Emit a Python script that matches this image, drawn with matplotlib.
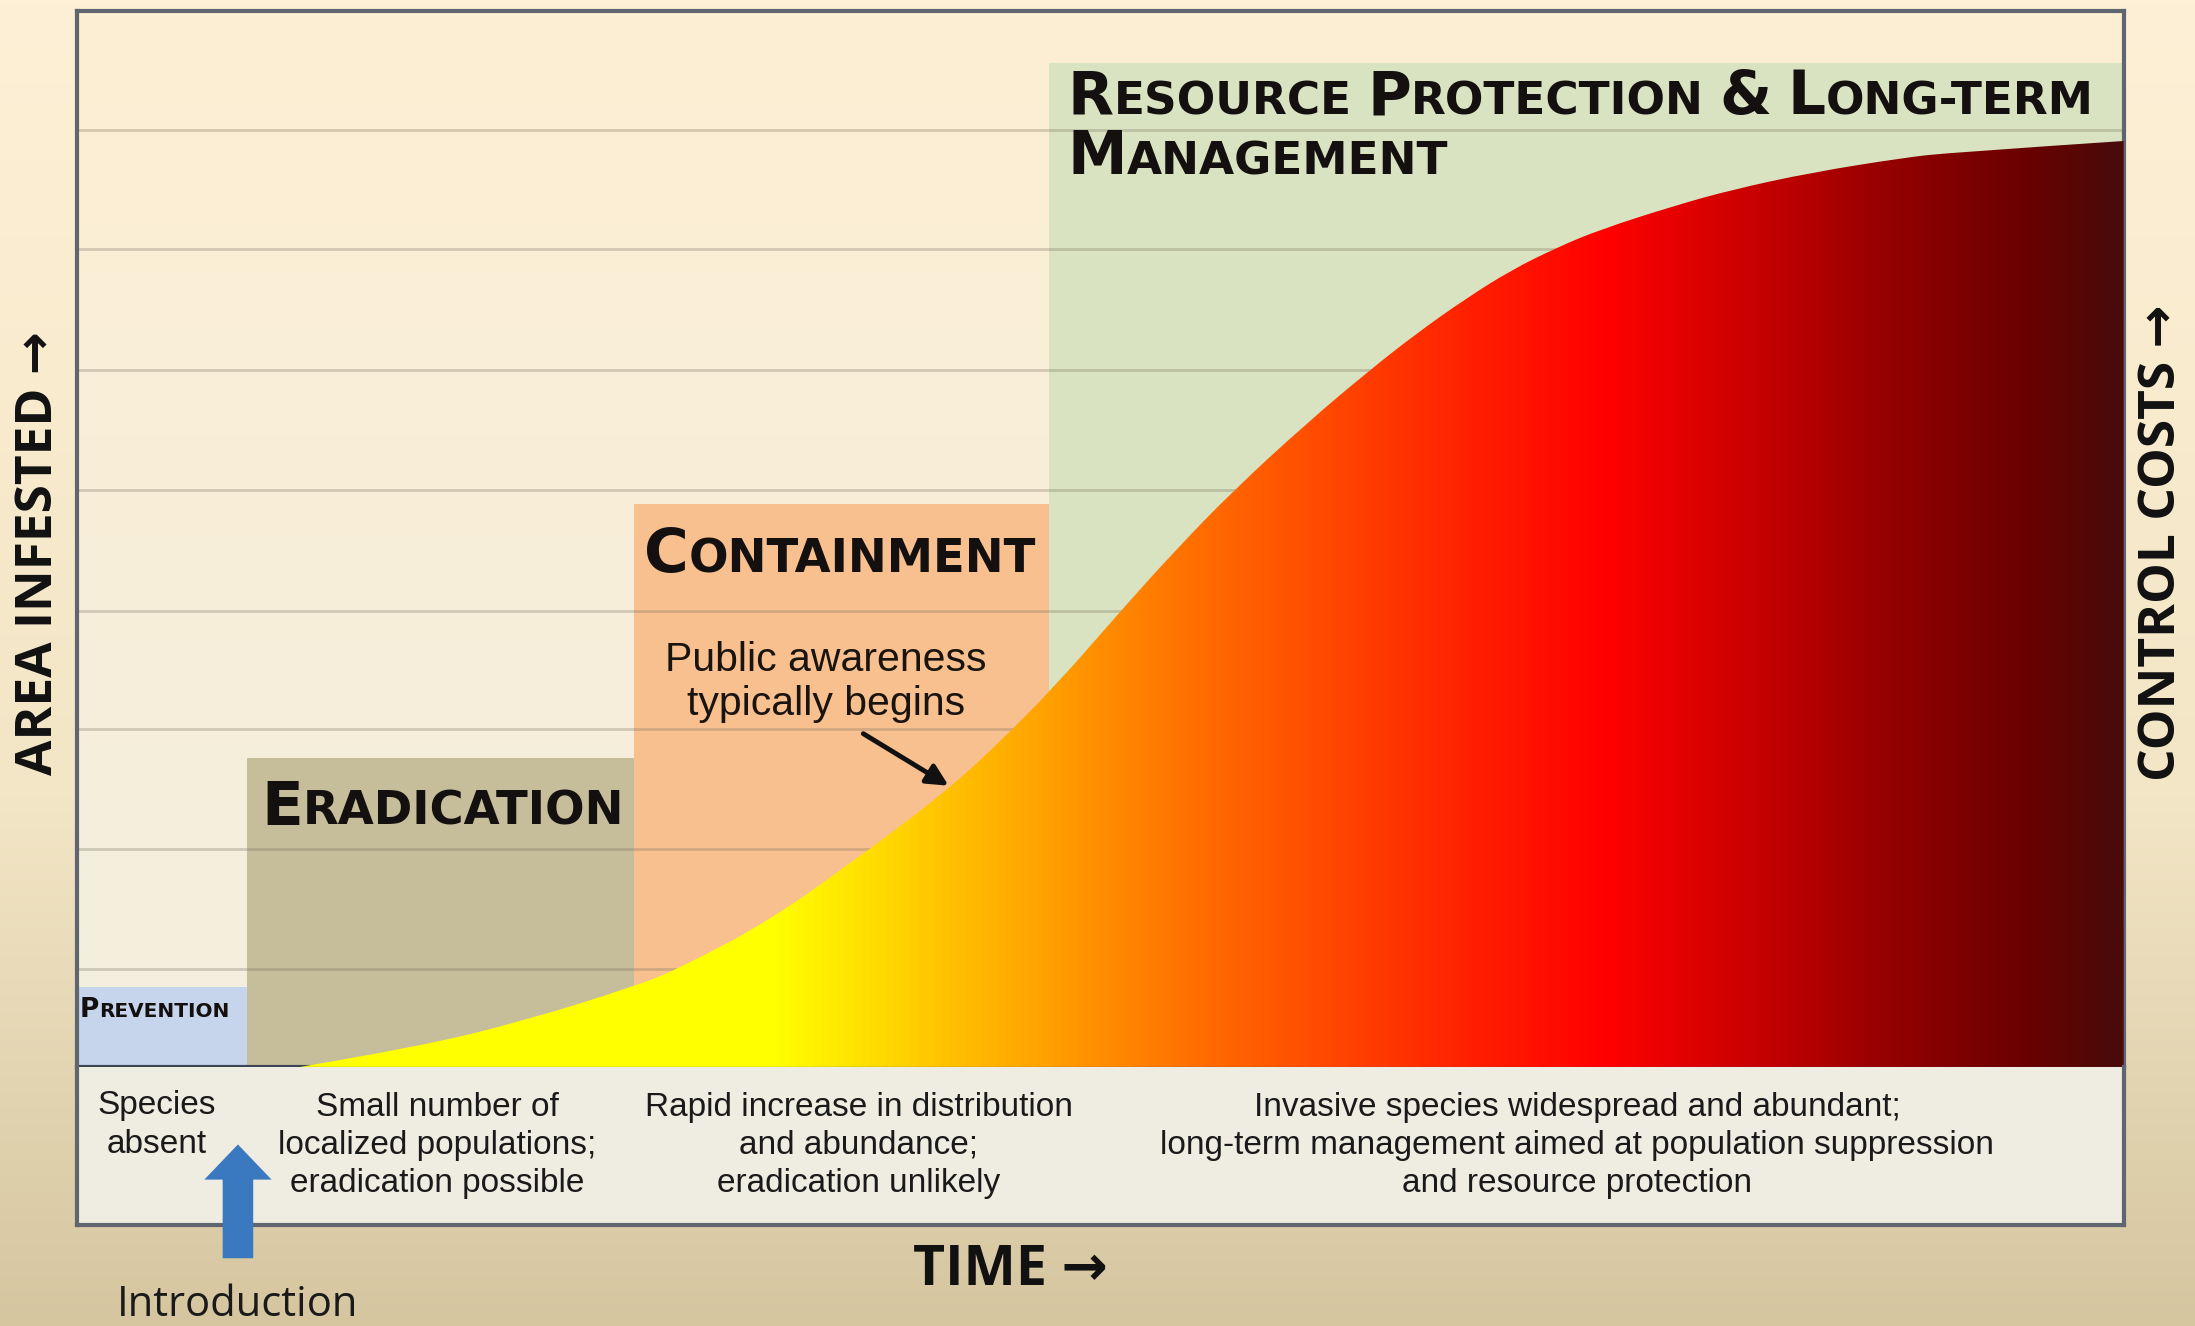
import numpy as np
import matplotlib.pyplot as plt
from matplotlib.colors import LinearSegmentedColormap
from matplotlib.offsetbox import TextArea, HPacker, AnnotationBbox
from matplotlib.patches import FancyArrowPatch, PathPatch
from matplotlib.path import Path

# x = time (0..100 across the frame), y = area infested (0..100 up the frame)
phase_titles = ['Prevention', 'Eradication', 'Containment',
                'Resource Protection & Long-term', 'Management']
title_x = [0.15, 9.0, 27.7, 48.4, 48.4]
title_y = [5.4, 24.5, 48.4, 91.8, 86.1]
title_size = [19, 44, 44, 43, 43]

phase_left = [0, 8.3, 27.2, 47.5]
phase_right = [8.3, 27.2, 47.5, 100]
phase_top = [7.6, 29.3, 53.3, 95.1]
phase_colors = ['#c6d5ec', '#c6bd9b', '#f8c08f', '#d9e3c1']

curve_x = [10.9, 16.7, 21.9, 27.2, 29.4, 33.9, 38.7, 40.7, 42.8, 45.1, 47.9, 51.0,
           53.6, 56.5, 60.1, 63.1, 65.4, 67.8, 70.1, 72.3, 74.4, 78.1, 80.9, 84.7,
           89.2, 91.5, 100]
curve_y = [0, 1.9, 4.4, 7.6, 9.3, 13.9, 20.6, 23.5, 26.7, 30.8, 36.3, 43.2,
           48.8, 54.6, 61.0, 65.9, 69.4, 72.7, 75.5, 77.6, 79.3, 81.6, 83.1, 84.7,
           86.1, 86.6, 87.7]

grid_y = [9.3, 20.6, 32.0, 43.2, 54.6, 66.0, 77.5, 88.7]

# colour of the infestation curve along time
cmap_pos = [0, 0.34, 0.373, 0.427, 0.475, 0.544, 0.612, 0.681, 0.749, 0.817, 0.886, 0.954, 1]
cmap_colors = ['#ffff00', '#ffff00', '#ffe800', '#ffc000', '#ff9f00', '#ff7000', '#ff4800',
               '#ff2000', '#ff0000', '#cc0000', '#960000', '#6a0000', '#4a0a0a']

stage_text = ['Species\nabsent',
              'Small number of\nlocalized populations;\neradication possible',
              'Rapid increase in distribution\nand abundance;\neradication unlikely',
              'Invasive species widespread and abundant;\nlong-term management aimed at population suppression\nand resource protection']
stage_x = [3.9, 17.6, 38.2, 73.3]
stage_y = [0.633, 0.504, 0.504, 0.504]

fig = plt.figure(figsize=(21.95, 13.26), dpi=100)

# page background
bg = fig.add_axes([0, 0, 1, 1], zorder=-10)
bg_cmap = LinearSegmentedColormap.from_list('bg', [(0, '#d5c6a0'), (0.4, '#f3e6c6'), (1, '#fdf0d6')])
bg.imshow(np.linspace(0, 1, 256).reshape(-1, 1), cmap=bg_cmap, origin='lower',
          extent=[0, 1, 0, 1], aspect='auto')
bg.set_axis_off()

left, width = 0.0351, 0.9324
ax = fig.add_axes([left, 0.1954, width, 0.7962])
tax = fig.add_axes([left, 0.076, width, 0.1194])

ax.set_xlim(0, 100)
ax.set_ylim(0, 100)
plot_cmap = LinearSegmentedColormap.from_list('pl', ['#f3eedf', '#fdefd3'])
ax.imshow(np.linspace(0, 1, 256).reshape(-1, 1), cmap=plot_cmap, origin='lower',
          extent=[0, 100, 0, 100], aspect='auto', zorder=0)

widths = [r - l for l, r in zip(phase_left, phase_right)]
ax.bar(phase_left, phase_top, width=widths, align='edge', color=phase_colors, zorder=1)
ax.hlines(grid_y, 0, 100, color='#7a7060', alpha=0.3, lw=2, zorder=2)

# smooth outline through the read points (quadratic bezier, control = read point)
pts = list(zip(curve_x, curve_y))
verts = [pts[0]]
codes = [Path.MOVETO]
for i in range(1, len(pts) - 1):
    if i < len(pts) - 2:
        end = ((pts[i][0] + pts[i + 1][0]) / 2, (pts[i][1] + pts[i + 1][1]) / 2)
    else:
        end = pts[i + 1]
    verts += [pts[i], end]
    codes += [Path.CURVE3, Path.CURVE3]
verts += [(curve_x[-1], 0), (curve_x[0], 0), (curve_x[0], 0)]
codes += [Path.LINETO, Path.LINETO, Path.CLOSEPOLY]
outline = PathPatch(Path(verts, codes), facecolor='none', edgecolor='none', transform=ax.transData)
ax.add_patch(outline)

cmap = LinearSegmentedColormap.from_list('heat', list(zip(cmap_pos, cmap_colors)))
img = ax.imshow(np.linspace(0, 1, 512).reshape(1, -1), cmap=cmap, extent=[0, 100, 0, 100],
                aspect='auto', zorder=3, interpolation='bilinear')
img.set_clip_path(outline)


def small_caps(ax, x, y, text, size, ratio=0.76):
    words = []
    for word in text.split(' '):
        parts = []
        for ch in word:
            big = ch.isupper() or ch == '&'
            if parts and parts[-1][0] == big:
                parts[-1][1] += ch
            else:
                parts.append([big, ch])
        boxes = [TextArea(s.upper(), textprops=dict(fontsize=size if b else size * ratio,
                                                     fontweight='bold', color='#141010',
                                                     family='DejaVu Sans'))
                 for b, s in parts]
        words.append(HPacker(children=boxes, align='baseline', pad=0, sep=0))
    pack = HPacker(children=words, align='baseline', pad=0, sep=size * 0.26)
    ab = AnnotationBbox(pack, (x, y), xycoords='data', box_alignment=(0, 0.5),
                        frameon=False, pad=0, zorder=5)
    ax.add_artist(ab)


for t, x, y, s in zip(phase_titles, title_x, title_y, title_size):
    small_caps(ax, x, y, t, s)

ax.text(36.6, 36.5, 'Public awareness\ntypically begins', ha='center', va='center',
        fontsize=29.5, family='Liberation Sans', color='#1a1410', linespacing=1.2, zorder=5)
ax.annotate('', xy=(42.7, 26.5), xytext=(38.3, 31.7), zorder=6,
            arrowprops=dict(arrowstyle='-|>', lw=3.5, color='#111111', mutation_scale=32))

ax.set_xticks([])
ax.set_yticks([])
for side, sp in ax.spines.items():
    sp.set_color('#5f6670')
    sp.set_linewidth(3)
ax.spines['bottom'].set_color('#3c4654')

tax.set_xlim(0, 100)
tax.set_ylim(0, 1)
tax.set_facecolor('#efece2')
tax.set_xticks([])
tax.set_yticks([])
for side, sp in tax.spines.items():
    sp.set_color('#5f6670')
    sp.set_linewidth(3)
tax.spines['top'].set_visible(False)
for t, x, y in zip(stage_text, stage_x, stage_y):
    tax.text(x, y, t, ha='center', va='center', multialignment='center', fontsize=24,
             family='Liberation Sans', color='#1a1a1a', linespacing=1.3)

arrow_font = ['Open Sans', 'DejaVu Sans']
fig.text(0.0179, 0.583, 'AREA INFESTED →', rotation=90, ha='center', va='center',
         fontsize=37, fontweight='bold', family=arrow_font, color='#111111')
fig.text(0.985, 0.591, 'CONTROL COSTS →', rotation=90, ha='center', va='center',
         fontsize=37, fontweight='bold', family=arrow_font, color='#111111')
fig.text(0.4605, 0.0422, 'TIME →', ha='center', va='center',
         fontsize=40, fontweight='bold', family=arrow_font, color='#111111')
fig.text(0.1084, 0.0158, 'Introduction', ha='center', va='center',
         fontsize=30, family='Open Sans', color='#1a1a1a')

intro = FancyArrowPatch((0.1084, 0.049), (0.1084, 0.139), transform=fig.transFigure,
                        arrowstyle='simple,head_length=1.15,head_width=2.2,tail_width=1.0',
                        mutation_scale=22, color='#3a78c0', lw=0, zorder=20)
fig.add_artist(intro)

fig.savefig('out.png', dpi=100)
